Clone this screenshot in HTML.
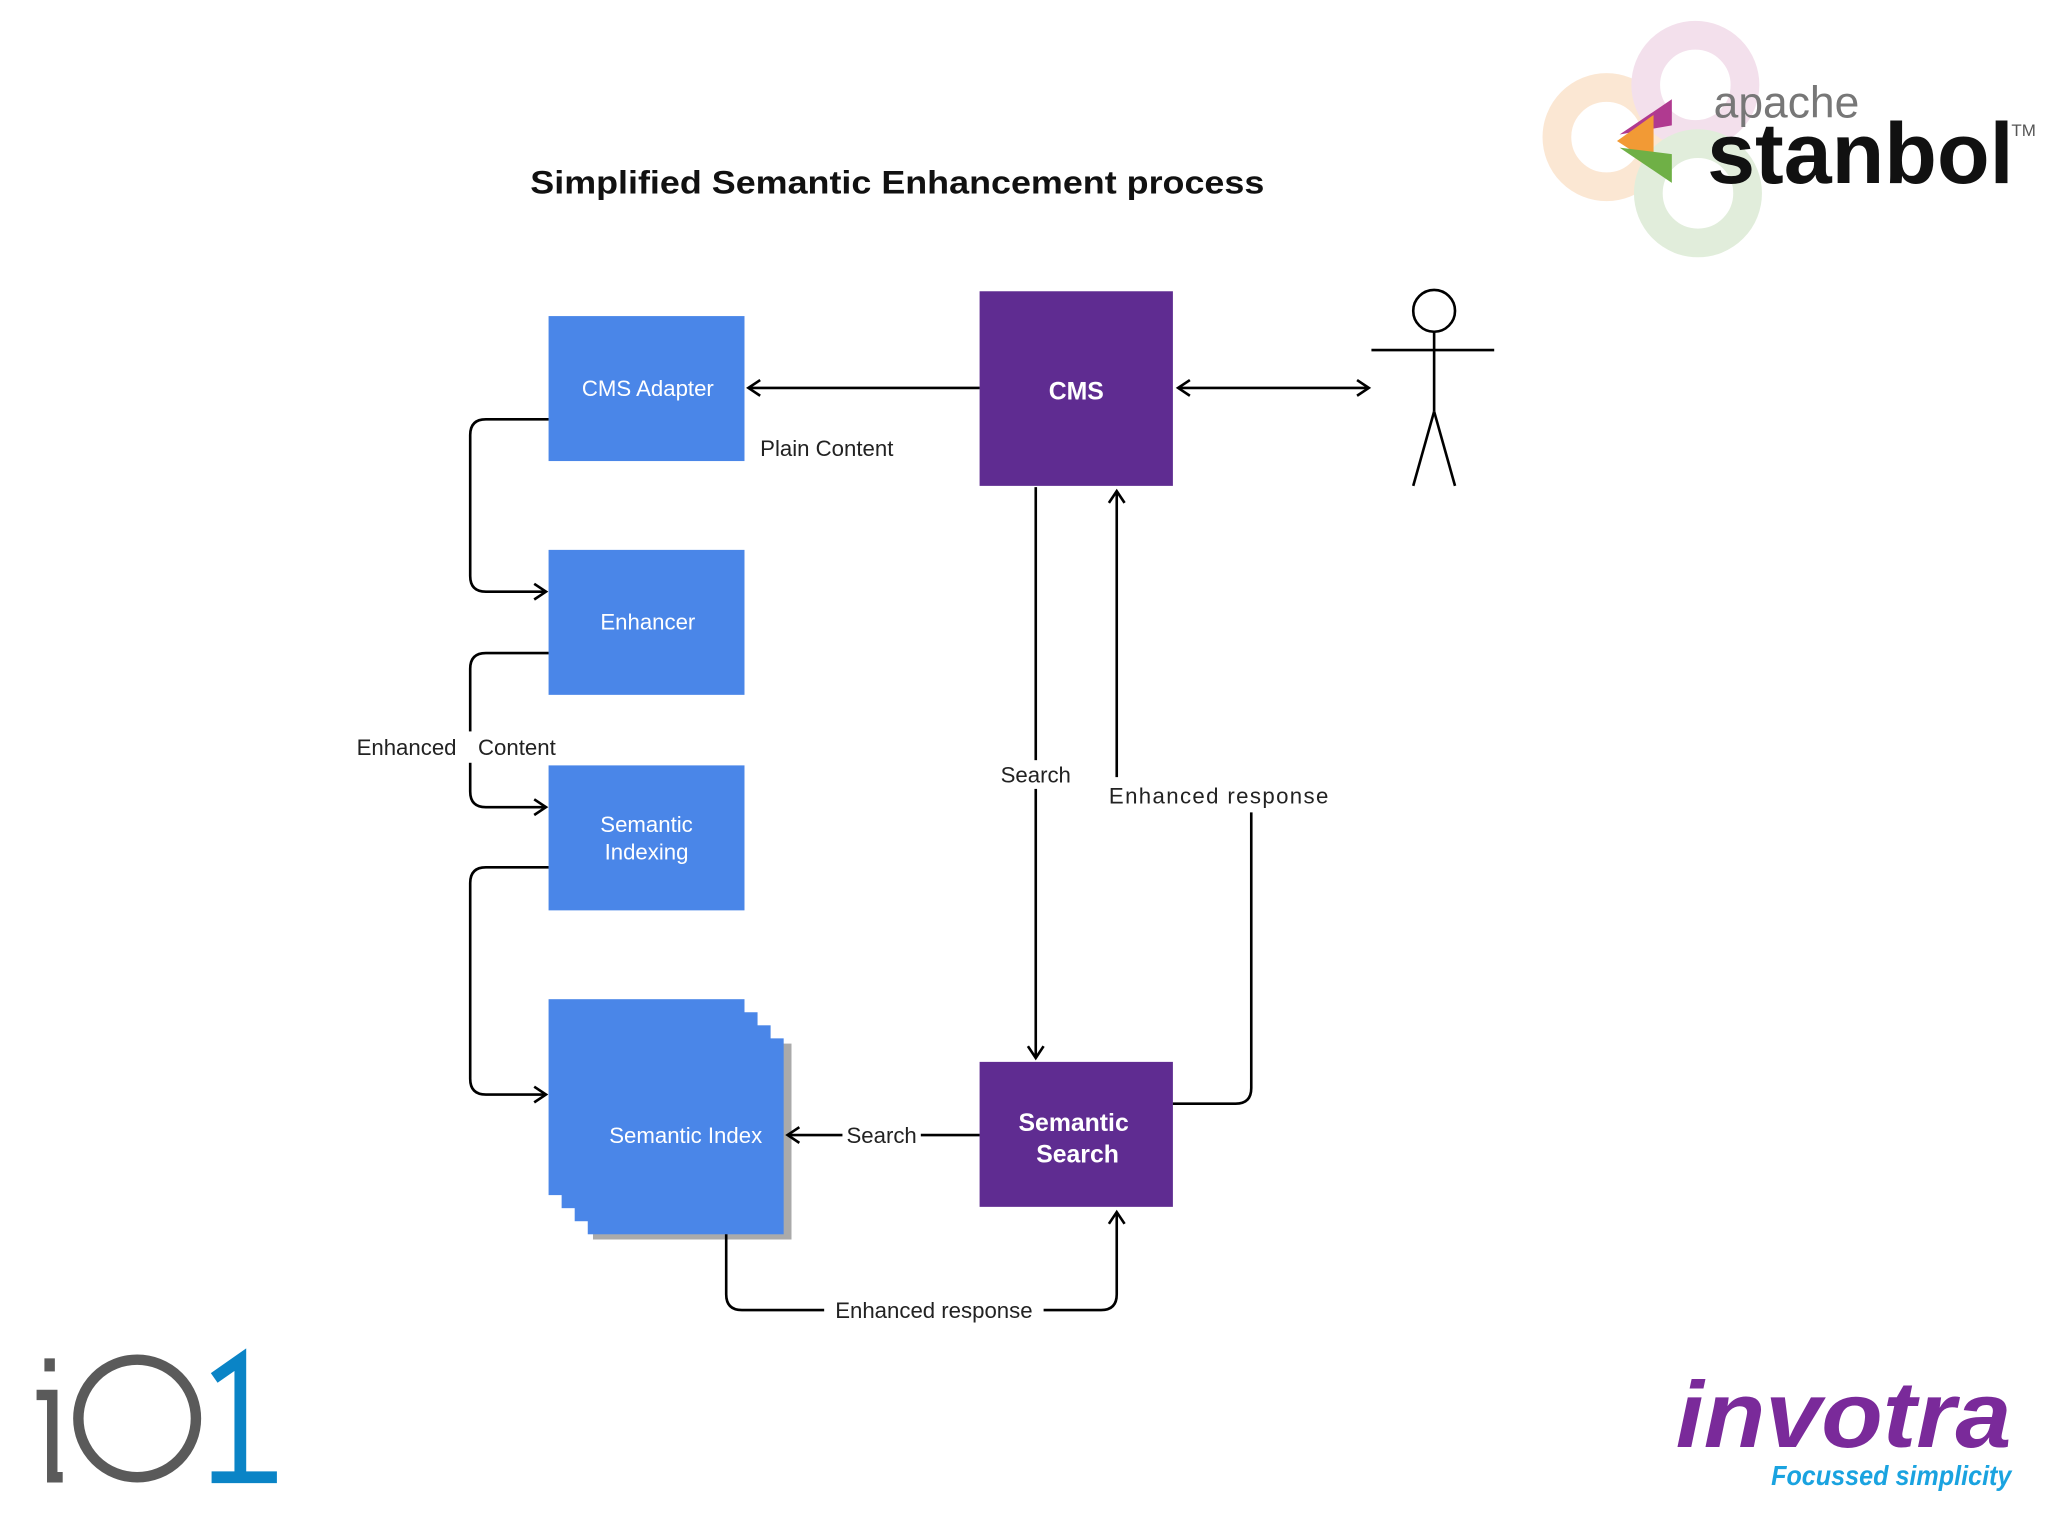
<!DOCTYPE html>
<html><head><meta charset="utf-8"><style>
html,body{margin:0;padding:0;background:#fff}
svg{display:block}
text{font-family:"Liberation Sans",sans-serif}
</style></head><body>
<svg width="2048" height="1536" viewBox="0 0 1568 1176" xmlns="http://www.w3.org/2000/svg">
<defs>
<marker id="a" markerWidth="14" markerHeight="14" refX="11" refY="7" orient="auto" markerUnits="userSpaceOnUse">
<path d="M2,1 L11,7 L2,13" fill="none" stroke="#000" stroke-width="2"/>
</marker>
<marker id="s" markerWidth="14" markerHeight="14" refX="3" refY="7" orient="auto" markerUnits="userSpaceOnUse">
<path d="M12,1 L3,7 L12,13" fill="none" stroke="#000" stroke-width="2"/>
</marker>
</defs>
<rect width="1568" height="1176" fill="#fff"/>
<!-- stanbol logo -->
<g opacity="0.85">
<circle cx="1230" cy="105" r="38" fill="none" stroke="#fbe3cc" stroke-width="22"/>
<circle cx="1298" cy="65" r="38" fill="none" stroke="#f1dbe9" stroke-width="22"/>
<circle cx="1300" cy="148" r="38" fill="none" stroke="#dcebd5" stroke-width="22"/>
</g>
<path d="M1240,103 L1280,96 L1280,76 Z" fill="#b03a90"/>
<path d="M1238,108 L1266,88 L1266,126 Z" fill="#f29a35"/>
<path d="M1240,113 L1280,118 L1280,140 Z" fill="#6fb046"/>
<text x="1312" y="90" font-size="34" fill="#777">apache</text>
<text x="1307" y="140" font-size="66" font-weight="bold" fill="#111">stanbol</text>
<text x="1540" y="104" font-size="13" fill="#555">TM</text>
<!-- title -->
<text x="406" y="148" font-size="25" font-weight="bold" fill="#111" textLength="562" lengthAdjust="spacingAndGlyphs">Simplified Semantic Enhancement process</text>
<!-- boxes -->
<g fill="#4a86e8">
<rect x="420" y="242" width="150" height="111"/>
<rect x="420" y="421" width="150" height="111"/>
<rect x="420" y="586" width="150" height="111"/>
</g>
<rect x="454" y="799" width="152" height="150" fill="#aaa"/>
<rect x="450" y="795" width="150" height="150" fill="#4a86e8"/>
<rect x="440" y="785" width="150" height="150" fill="#4a86e8"/>
<rect x="430" y="775" width="150" height="150" fill="#4a86e8"/>
<rect x="420" y="765" width="150" height="150" fill="#4a86e8"/>
<rect x="750" y="223" width="148" height="149" fill="#5f2c91"/>
<rect x="750" y="813" width="148" height="111" fill="#5f2c91"/>
<g fill="#fff" font-size="17" text-anchor="middle">
<text x="496" y="303">CMS Adapter</text>
<text x="496" y="482">Enhancer</text>
<text x="495" y="637">Semantic</text>
<text x="495" y="658">Indexing</text>
<text x="525" y="875">Semantic Index</text>
<text x="824" y="306" font-weight="bold" font-size="19">CMS</text>
<text x="822" y="866" font-weight="bold" font-size="19">Semantic</text>
<text x="825" y="890" font-weight="bold" font-size="19">Search</text>
</g>
<!-- actor -->
<g stroke="#000" stroke-width="2" fill="none">
<circle cx="1098" cy="238" r="16" fill="#fff"/>
<line x1="1098" y1="254" x2="1098" y2="315"/>
<line x1="1050" y1="268" x2="1144" y2="268"/>
<line x1="1098" y1="315" x2="1082" y2="372"/>
<line x1="1098" y1="315" x2="1114" y2="372"/>
</g>
<!-- connectors -->
<g stroke="#000" stroke-width="2" fill="none">
<line x1="750" y1="297" x2="573" y2="297" marker-end="url(#a)"/>
<line x1="902" y1="297" x2="1048" y2="297" marker-start="url(#s)" marker-end="url(#a)"/>
<path d="M420,321 H372 Q360,321 360,333 V441 Q360,453 372,453 H418" marker-end="url(#a)"/>
<path d="M420,500 H372 Q360,500 360,512 V606 Q360,618 372,618 H418" marker-end="url(#a)"/>
<path d="M420,664 H372 Q360,664 360,676 V826 Q360,838 372,838 H418" marker-end="url(#a)"/>
<line x1="793" y1="373" x2="793" y2="810" marker-end="url(#a)"/>
<path d="M898,845 H946 Q958,845 958,833 V622"/>
<line x1="855" y1="595" x2="855" y2="376" marker-end="url(#a)"/>
<line x1="750" y1="869" x2="603" y2="869" marker-end="url(#a)"/>
<path d="M556,945 V991 Q556,1003 568,1003 H843 Q855,1003 855,991 V928" marker-end="url(#a)"/>
</g>
<!-- labels -->
<g font-size="17" fill="#222">
<text x="582" y="349">Plain Content</text>
<rect x="270" y="560" width="165" height="24" fill="#fff"/>
<text x="273" y="578">Enhanced</text>
<text x="366" y="578">Content</text>
<rect x="760" y="582" width="66" height="22" fill="#fff"/>
<text x="793" y="599" text-anchor="middle">Search</text>
<text x="849" y="615" textLength="168">Enhanced response</text>
<rect x="645" y="858" width="60" height="22" fill="#fff"/>
<text x="675" y="875" text-anchor="middle">Search</text>
<rect x="631" y="992" width="168" height="22" fill="#fff"/>
<text x="715" y="1009" text-anchor="middle">Enhanced response</text>
</g>
<!-- io1 logo -->
<g fill="none">
<path d="M38,1040 V1050" stroke="#5a5a5a" stroke-width="8"/>
<path d="M28,1068 H40 V1131 H48" stroke="#5a5a5a" stroke-width="8"/>
<circle cx="105" cy="1086" r="45" stroke="#5a5a5a" stroke-width="8"/>
<path d="M164,1055 L184,1041 V1131 M162,1131 H212" stroke="#0a84c6" stroke-width="9"/>
</g>
<!-- invotra -->
<text x="1283" y="1108" font-size="72" font-weight="bold" font-style="italic" fill="#7a2a9a" textLength="257" lengthAdjust="spacingAndGlyphs">invotra</text>
<text x="1356" y="1137" font-size="21" font-weight="bold" font-style="italic" fill="#1aa3e0" textLength="184" lengthAdjust="spacingAndGlyphs">Focussed simplicity</text>
</svg>
</body></html>
